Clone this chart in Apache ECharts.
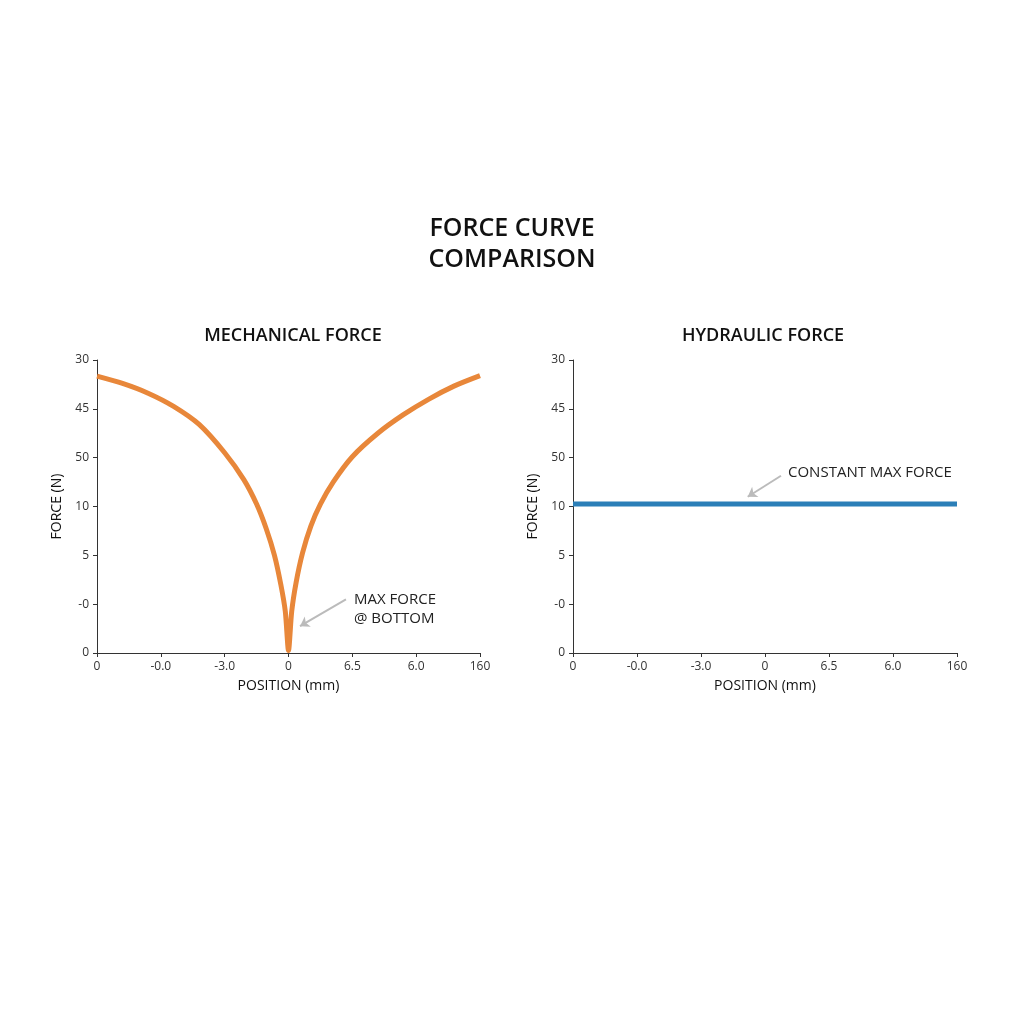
<!DOCTYPE html>
<html><head><meta charset="utf-8">
<script src="https://cdn.jsdelivr.net/npm/echarts@6/dist/echarts.min.js"></script>
<style>html,body{margin:0;background:#fff}#c{width:1024px;height:1024px}</style>
</head><body><div id="c"></div>
<script>
const xTickLabels = ['0','-0.0','-3.0','0','6.5','6.0','160'];
const xTickLabels2 = ['0','-0.0','-3.0','0','6.5','6.0','160'];
const yTickLabels = ['0','-0','5','10','50','45','30'];
const mechX = [0,0.4,0.8,1.2,1.6,2.0,2.3,2.5,2.65,2.78,2.88,2.95,3,3.05,3.12,3.22,3.35,3.5,3.7,4.0,4.4,4.8,5.2,5.6,6];
const mechY = [5.67,5.52,5.32,5.05,4.68,4.1,3.55,3.05,2.55,2.0,1.4,0.85,0.05,0.85,1.45,2.05,2.6,3.05,3.5,4.02,4.5,4.88,5.2,5.47,5.68];
const hydX = [0,6];
const hydY = [3.05,3.05];
const font = 'Open Sans';
function xAxis(i,labels){return {gridIndex:i,type:'value',min:0,max:6,interval:1,name:'POSITION (mm)',nameLocation:'middle',nameGap:26,
  nameTextStyle:{color:'#111',fontSize:14,fontFamily:font},
  axisLine:{lineStyle:{color:'#333'}},axisTick:{show:true,length:4,lineStyle:{color:'#333'}},splitLine:{show:false},
  axisLabel:{color:'#333',fontSize:12,fontFamily:font,formatter:v=>labels[Math.round(v)]}};}
function yAxis(i){return {gridIndex:i,type:'value',min:0,max:6,interval:1,name:'FORCE (N)',nameLocation:'middle',nameGap:33,
  nameTextStyle:{color:'#111',fontSize:14,fontFamily:font},
  axisLine:{show:true,lineStyle:{color:'#333'}},axisTick:{show:true,length:4,lineStyle:{color:'#333'}},splitLine:{show:false},
  axisLabel:{color:'#333',fontSize:12,fontFamily:font,formatter:v=>yTickLabels[Math.round(v)]}};}
function arrow(x1,y1,x2,y2){return {silent:true,symbol:['none','arrow'],symbolSize:9,label:{show:false},
  lineStyle:{color:'#bbb',width:2,type:'solid'},data:[[{coord:[x1,y1]},{coord:[x2,y2]}]]};}
const chart = echarts.init(document.getElementById('c'));
chart.setOption({
  animation:false,
  title:[
    {text:'FORCE CURVE\nCOMPARISON',left:'center',top:208,textStyle:{fontSize:25,fontWeight:600,color:'#111',fontFamily:font,lineHeight:31}},
    {text:'MECHANICAL FORCE',left:288,textAlign:'center',top:322,textStyle:{fontSize:18,fontWeight:600,color:'#111',fontFamily:font}},
    {text:'HYDRAULIC FORCE',left:758,textAlign:'center',top:322,textStyle:{fontSize:18,fontWeight:600,color:'#111',fontFamily:font}}
  ],
  grid:[{left:97,width:383,top:360,height:293},{left:573,width:384,top:360,height:293}],
  xAxis:[xAxis(0,xTickLabels),xAxis(1,xTickLabels2)],
  yAxis:[yAxis(0),yAxis(1)],
  graphic:[
    {type:'text',left:354,top:590,style:{text:'MAX FORCE\n@ BOTTOM',fontSize:15,fill:'#222',fontFamily:font,lineHeight:19}},
    {type:'text',left:788,top:465,style:{text:'CONSTANT MAX FORCE',fontSize:15,fill:'#222',fontFamily:font}}
  ],
  series:[
    {type:'line',xAxisIndex:0,yAxisIndex:0,data:mechX.map((x,i)=>[x,mechY[i]]),smooth:0.25,showSymbol:false,
      lineStyle:{color:'#E8873A',width:5},markLine:arrow(3.9,1.1,3.18,0.55)},
    {type:'line',xAxisIndex:1,yAxisIndex:1,data:hydX.map((x,i)=>[x,hydY[i]]),showSymbol:false,
      lineStyle:{color:'#2B7FB8',width:5},markLine:arrow(3.25,3.63,2.73,3.2)}
  ]
});
</script></body></html>
